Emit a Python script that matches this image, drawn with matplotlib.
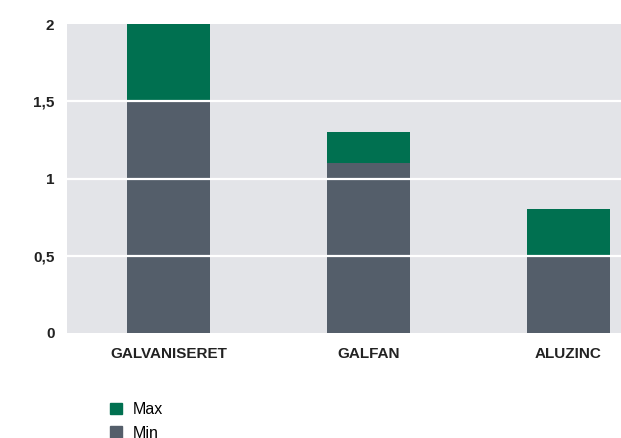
import numpy as np
import matplotlib.pyplot as plt
from matplotlib.patches import Patch

##--------------------------DATA------------------------##
categories = ['GALVANISERET', 'GALFAN', 'ALUZINC']
min_vals = [1.5, 1.1, 0.5]
max_vals = [2.0, 1.3, 0.8]
ytick_vals = [0, 0.5, 1, 1.5, 2]
ytick_labels = ['0', '0,5', '1', '1,5', '2']

green = '#007050'
grey = '#545e6a'
bg = '#e3e4e8'

plt.rcParams['font.family'] = ['Liberation Sans', 'DejaVu Sans']

fig = plt.figure(figsize=(6.21, 4.38), dpi=100)
ax = fig.add_axes([67/621, 1 - 333/438, 1 - 67/621, 309/438])
ax.set_facecolor(bg)

x = np.arange(len(categories))
diff = np.array(max_vals) - np.array(min_vals)
ax.bar(x, min_vals, width=0.415, color=grey, zorder=1)
ax.bar(x, diff, bottom=min_vals, width=0.415, color=green, zorder=1)

# white gridlines drawn over the bars
for v in ytick_vals[1:-1]:
    ax.axhline(v, color='white', lw=1.6, zorder=2)

ax.set_xlim(-0.5075, 2.2625)
ax.set_ylim(0, 2)
ax.set_xticks(x)
ax.set_xticklabels(categories, fontsize=11, fontweight='bold', color='#222222')
ax.set_yticks(ytick_vals)
ax.set_yticklabels(ytick_labels, fontsize=11, fontweight='bold', color='#222222')
ax.tick_params(length=0)
ax.tick_params(axis='x', pad=10)
ax.tick_params(axis='y', pad=9)
for s in ax.spines.values():
    s.set_visible(False)

handles = [Patch(color=green, label='Max'), Patch(color=grey, label='Min')]
fig.legend(handles=handles, loc='upper left', bbox_to_anchor=(110/621, 1 - 402/438),
           frameon=False, fontsize=11.5, handlelength=0.75, handleheight=0.75,
           handletextpad=0.65, labelspacing=0.55, borderaxespad=0, borderpad=0)

fig.savefig('out.png', dpi=100)
